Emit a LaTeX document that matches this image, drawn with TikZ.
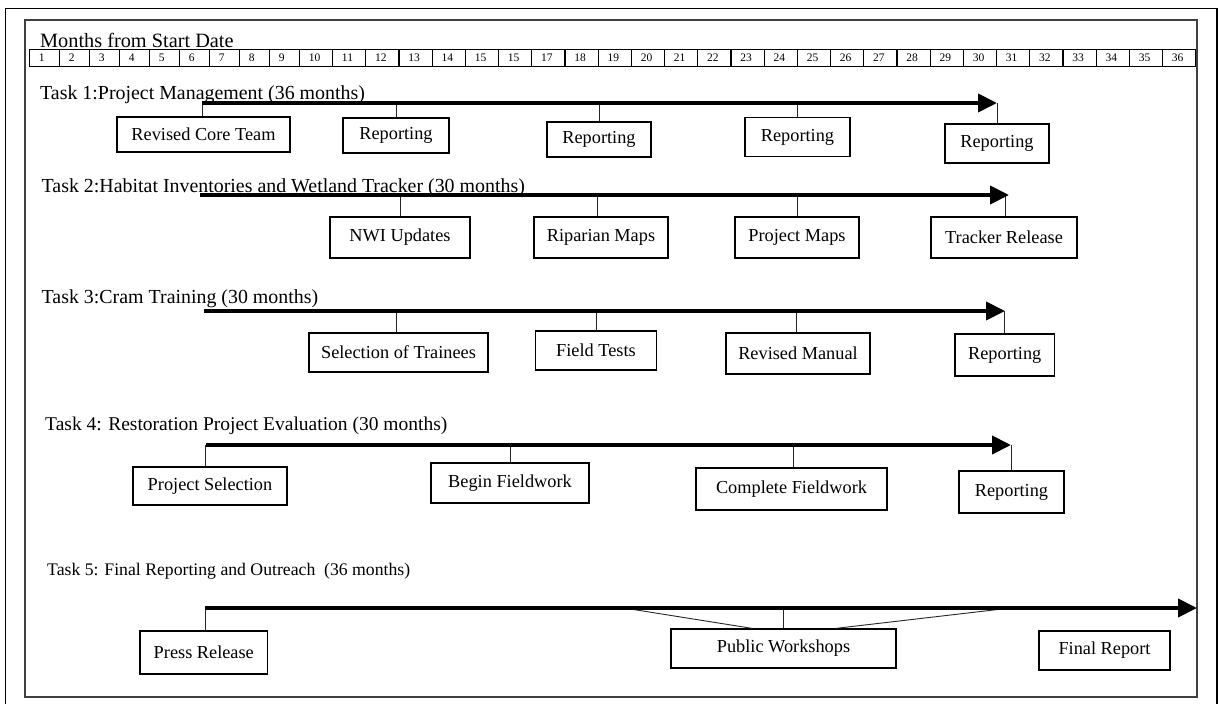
\documentclass[tikz,border=0pt]{standalone}
\usepackage{fontspec}
\setmainfont{Liberation Serif}
\usetikzlibrary{arrows.meta}
\begin{document}
\begin{tikzpicture}[x=1pt,y=-1pt,
  tasklabel/.style={anchor=base west, inner sep=0pt, font=\fontsize{19.9}{24}\selectfont},
  smalllabel/.style={anchor=base west, inner sep=0pt, font=\fontsize{17.7}{20}\selectfont},
  boxnode/.style={draw, line width=1.2pt, inner sep=0pt, font=\fontsize{18.3}{21}\selectfont},
  cell/.style={draw, line width=0.8pt, inner ysep=0pt, inner xsep=9.5pt, align=left, minimum height=17pt, font=\fontsize{11.5}{13}\selectfont},
  timeline/.style={line width=4pt, -{Triangle[length=19pt,width=18pt]}},
  conn/.style={line width=0.9pt, black!85},
]
\useasboundingbox (0,0) rectangle (1218,704);
\fill[white] (0,0) rectangle (1218,704);
% frames
\draw[line width=1.6pt] (5.5,706) -- (5.5,8.5) -- (1217,8.5) -- (1217,706);
\draw[line width=1.1pt, black!75] (25,20) rectangle (1197,697);

% month row
\node[tasklabel, font=\fontsize{20.3}{24}\selectfont] (months) at (40,47) {Months from Start Date};
\foreach \i in {1,...,36} {
  \pgfmathsetmacro{\w}{\i<10 ? 30 : 33.26}
  \pgfmathsetmacro{\tw}{\w-19}
  \pgfmathsetmacro{\cx}{\i<10 ? 29.3+(\i-0.5)*30 : 299.3+(\i-9.5)*33.2}
  \pgfmathtruncatemacro{\lab}{\i==16 ? 15 : \i}
  \node[cell, text width=\tw pt, minimum width=\w pt] (m\i) at (\cx,57.5) {\lab};
}

% ---------- Task 1
\node[tasklabel] (t1) at (40,99.5) {Task 1:Project Management (36 months)};
\coordinate (a1s) at (202,103);
\coordinate (a1e) at (997,103);
\node[boxnode, minimum width=173pt, minimum height=35pt] (rct) at (203.5,134.5) {Revised Core Team};
\node[boxnode, minimum width=106pt, minimum height=35pt] (r1a) at (396,135.5) {Reporting};
\node[boxnode, minimum width=104pt, minimum height=35pt] (r1b) at (599,139.5) {Reporting};
\node[boxnode, minimum width=105pt, minimum height=39pt] (r1c) at (797.5,137) {Reporting};
\node[boxnode, minimum width=104pt, minimum height=39pt] (r1d) at (997,143.5) {Reporting};
\draw[conn] (a1s) -- (a1s |- rct.north);
\draw[conn] (r1a.north) -- (r1a.north |- a1s);
\draw[conn] (r1b.north) -- (r1b.north |- a1s);
\draw[conn] (r1c.north) -- (r1c.north |- a1s);
\draw[conn] (r1d.north) -- (a1e);
\draw[timeline] (a1s) -- (a1e);

% ---------- Task 2
\node[tasklabel] (t2) at (41.5,192) {Task 2:Habitat Inventories and Wetland Tracker (30 months)};
\coordinate (a2s) at (200,195);
\coordinate (a2e) at (1009,195);
\node[boxnode, minimum width=140pt, minimum height=41pt] (nwi) at (400,237.5) {NWI Updates};
\node[boxnode, minimum width=134pt, minimum height=41pt] (rip) at (601,237.5) {Riparian Maps};
\node[boxnode, minimum width=124pt, minimum height=41pt] (pmap) at (797,237.5) {Project Maps};
\node[boxnode, minimum width=146pt, minimum height=41pt] (trk) at (1004,237.5) {Tracker Release};
\draw[conn] (nwi.north) -- (nwi.north |- a2s);
\draw[conn] ([xshift=-4pt]rip.north) -- ([xshift=-4pt]rip.north |- a2s);
\draw[conn] (pmap.north) -- (pmap.north |- a2s);
\draw[conn] ([xshift=1pt]trk.north) -- ([xshift=1pt]trk.north |- a2s);
\draw[timeline] (a2s) -- (a2e);

% ---------- Task 3
\node[tasklabel] (t3) at (41.5,303) {Task 3:Cram Training (30 months)};
\coordinate (a3s) at (204,311);
\coordinate (a3e) at (1005,311);
\node[boxnode, minimum width=179pt, minimum height=39pt] (sel) at (398.5,352.5) {Selection of Trainees};
\node[boxnode, minimum width=121pt, minimum height=39pt] (ftst) at (596,350.5) {Field Tests};
\node[boxnode, minimum width=144pt, minimum height=41pt] (rman) at (798,353.5) {Revised Manual};
\node[boxnode, minimum width=99.5pt, minimum height=42pt] (r3) at (1004.75,355) {Reporting};
\draw[conn] ([xshift=-2.5pt]sel.north) -- ([xshift=-2.5pt]sel.north |- a3s);
\draw[conn] (ftst.north) -- (ftst.north |- a3s);
\draw[conn] ([xshift=-2pt]rman.north) -- ([xshift=-2pt]rman.north |- a3s);
\draw[conn] (r3.north) -- (r3.north |- a3s);
\draw[timeline] (a3s) -- (a3e);

% ---------- Task 4
\node[tasklabel, font=\fontsize{19.5}{24}\selectfont] (t4) at (45,430) {Task 4: Restoration Project Evaluation (30 months)};
\coordinate (a4s) at (205.5,445);
\coordinate (a4e) at (1011,445);
\node[boxnode, minimum width=154pt, minimum height=38pt] (psel) at (210,486) {Project Selection};
\node[boxnode, minimum width=158pt, minimum height=40pt] (bfw) at (510,483) {Begin Fieldwork};
\node[boxnode, minimum width=191pt, minimum height=42pt] (cfw) at (791.5,489) {Complete Fieldwork};
\node[boxnode, minimum width=105pt, minimum height=42pt] (r4) at (1011.5,492) {Reporting};
\draw[conn] (a4s) -- (a4s |- psel.north);
\draw[conn] (bfw.north) -- (bfw.north |- a4s);
\draw[conn] ([xshift=1.5pt]cfw.north) -- ([xshift=1.5pt]cfw.north |- a4s);
\draw[conn] (r4.north) -- (r4.north |- a4s);
\draw[timeline] (a4s) -- (a4e);

% ---------- Task 5
\node[smalllabel] (t5) at (47,575) {Task 5: Final Reporting and Outreach\ \ (36 months)};
\coordinate (a5s) at (205,608);
\coordinate (a5e) at (1197,608);
\coordinate (pwl) at (624,608);
\coordinate (pwr) at (1002,609);
\node[boxnode, minimum width=127.6pt, minimum height=43pt] (prs) at (203.8,652.5) {Press Release};
\node[boxnode, minimum width=225pt, minimum height=39pt] (pw) at (783.5,648.5) {Public Workshops};
\node[boxnode, minimum width=131pt, minimum height=39pt] (frep) at (1104.5,650.5) {Final Report};
\draw[conn] (a5s) -- (a5s |- prs.north);
\draw[conn] (pw.north) -- (pw.north |- a5s);
\draw[conn] (pwl) -- ([xshift=82pt]pw.north west);
\draw[conn] (pwr) -- ([xshift=-61pt]pw.north east);
\draw[timeline] (a5s) -- (a5e);
\end{tikzpicture}
\end{document}
